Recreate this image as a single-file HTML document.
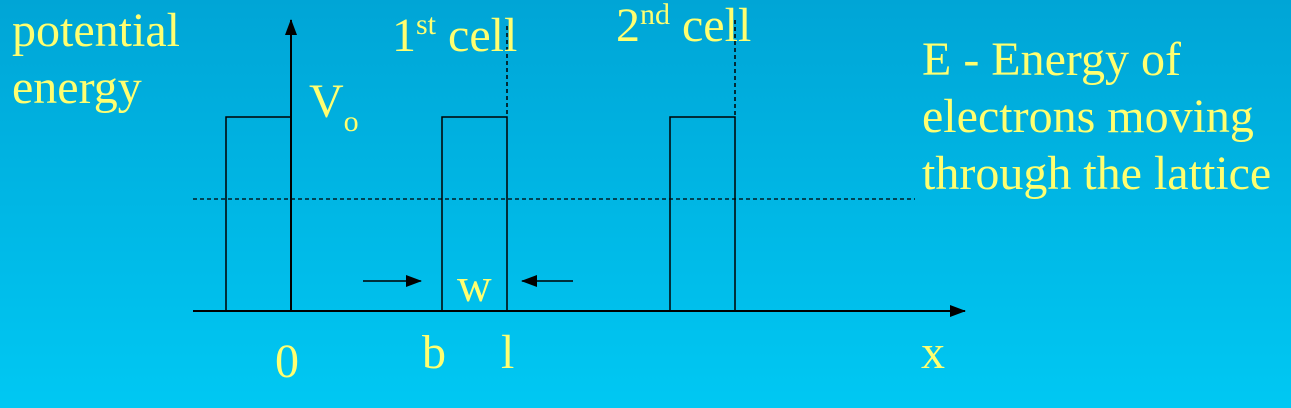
<!DOCTYPE html>
<html><head><meta charset="utf-8">
<style>
html,body{margin:0;padding:0;}
body{width:1291px;height:408px;overflow:hidden;background:linear-gradient(#00a5d6,#00c8f3);}
svg{position:absolute;left:0;top:0;}
text{font-family:"Liberation Serif",serif;fill:#ffff70;font-size:48px;}
</style></head><body>
<svg width="1291" height="408">
<defs><marker id="ah" markerWidth="16" markerHeight="12" refX="15" refY="6" orient="auto" markerUnits="userSpaceOnUse"><path d="M0,0 L16,6 L0,12z" fill="#000"/></marker>
<marker id="ah2" markerWidth="16" markerHeight="12" refX="15" refY="6" orient="auto" markerUnits="userSpaceOnUse"><path d="M0,0 L16,6 L0,12z" fill="#000"/></marker></defs>
<line x1="291" y1="311" x2="291" y2="20" stroke="#000" stroke-width="2" marker-end="url(#ah2)"/>
<line x1="193" y1="311" x2="965" y2="311" stroke="#000" stroke-width="2" marker-end="url(#ah2)"/>
<line x1="193" y1="199" x2="915" y2="199" stroke="#000" stroke-width="1.2" stroke-dasharray="4,3"/>
<line x1="507" y1="26" x2="507" y2="117" stroke="#000" stroke-width="1.5" stroke-dasharray="4,3"/>
<line x1="735" y1="20" x2="735" y2="117" stroke="#000" stroke-width="1.5" stroke-dasharray="4,3"/>
<g id="barriers"></g>
<line x1="363" y1="281" x2="421" y2="281" stroke="#000" stroke-width="1.5" marker-end="url(#ah)"/>
<line x1="573" y1="281" x2="522" y2="281" stroke="#000" stroke-width="1.5" marker-end="url(#ah)"/>
<text x="12" y="46">potential</text>
<text x="12" y="103">energy</text>
<text x="309" y="117">V<tspan font-size="30" dy="14">o</tspan></text>
<text x="392" y="51">1<tspan font-size="30" dy="-17">st</tspan><tspan dy="17"> cell</tspan></text>
<text x="616" y="41">2<tspan font-size="30" dy="-17">nd</tspan><tspan dy="17"> cell</tspan></text>
<text x="922" y="75">E - Energy of</text>
<text x="922" y="132">electrons moving</text>
<text x="922" y="189">through the lattice</text>
<text x="457" y="301">w</text>
<text x="275" y="377">0</text>
<text x="422" y="368">b</text>
<text x="501" y="368">l</text>
<text x="921" y="368">x</text>
</svg>
<script>
const barrierStarts=[226,442,670];
const barrierWidth=65;
const barrierTop=117, baseY=311;
const g=document.getElementById('barriers');
barrierStarts.forEach(function(x0,i){
  const p=document.createElementNS('http://www.w3.org/2000/svg','path');
  p.setAttribute('d','M'+x0+','+baseY+' V'+barrierTop+' H'+(x0+barrierWidth)+' V'+baseY);
  p.setAttribute('fill','none');p.setAttribute('stroke','#000');p.setAttribute('stroke-width','1.5');
  
  
  g.appendChild(p);
});
</script>
</body></html>
